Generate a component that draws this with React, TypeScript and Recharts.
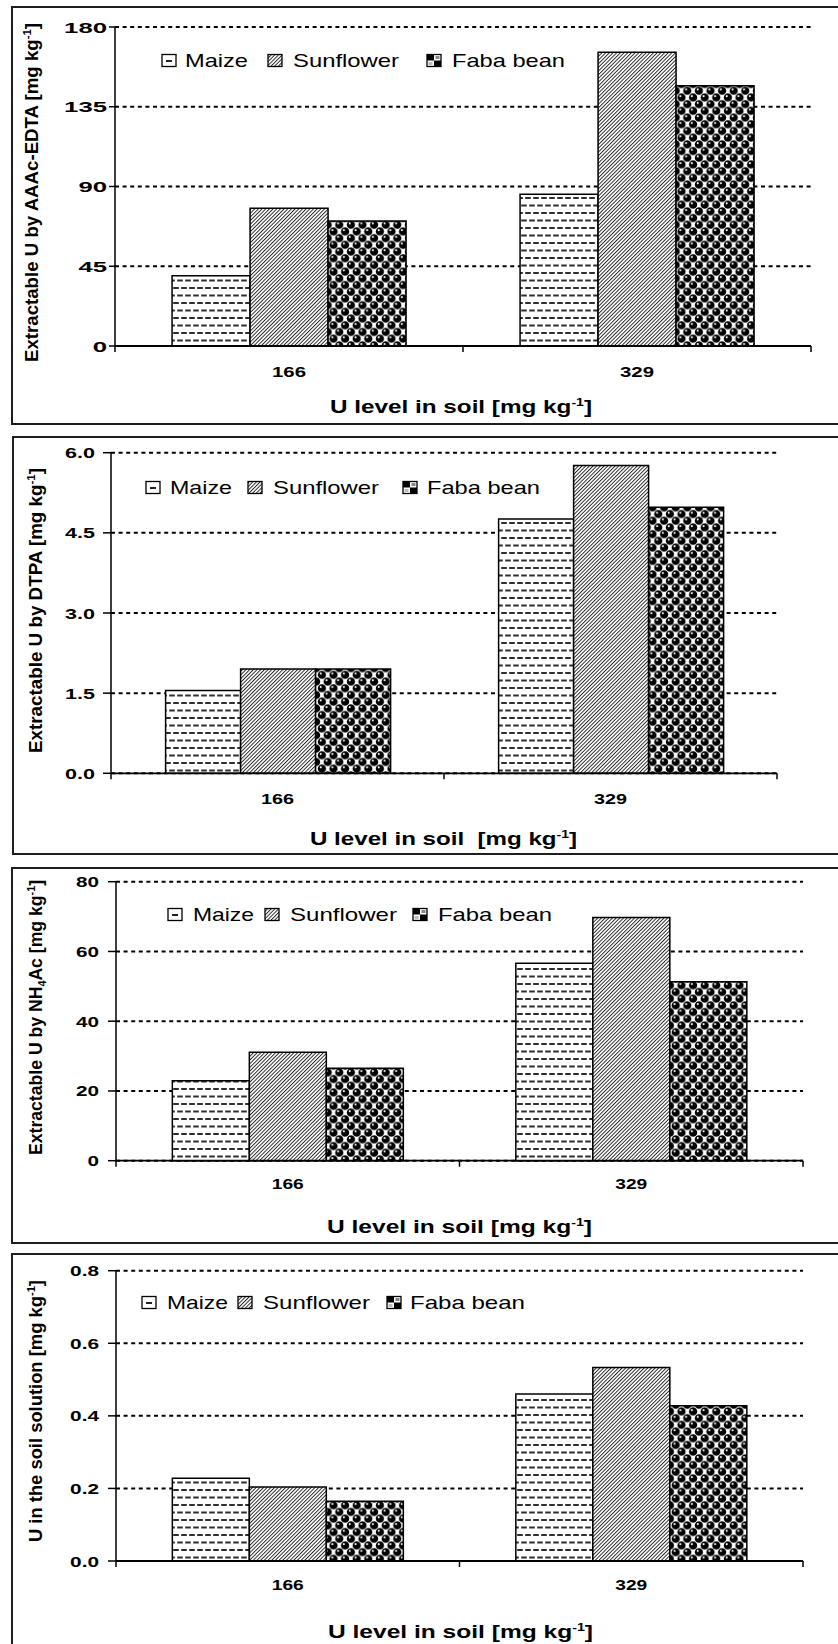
import React from 'react';
import { BarChart, Bar, XAxis, YAxis, CartesianGrid, Legend, Label } from 'recharts';

const FONT = '"Liberation Sans", Arial, sans-serif';

// soil U levels on the category axis
const levels = ['166', '329'];
const seriesNames = ['Maize', 'Sunflower', 'Faba bean'];

// extractable U by AAAc-EDTA
const edtaMaize = [39.7, 85.6];
const edtaSunflower = [77.7, 165.7];
const edtaFaba = [70.5, 146.9];
const edtaTicks = [0, 45, 90, 135, 180];

// extractable U by DTPA
const dtpaMaize = [1.55, 4.76];
const dtpaSunflower = [1.95, 5.76];
const dtpaFaba = [1.95, 4.98];
const dtpaTicks = [0, 1.5, 3, 4.5, 6];

// extractable U by NH4Ac
const nh4Maize = [22.9, 56.6];
const nh4Sunflower = [31.1, 69.7];
const nh4Faba = [26.5, 51.3];
const nh4Ticks = [0, 20, 40, 60, 80];

// U in the soil solution
const solMaize = [0.228, 0.46];
const solSunflower = [0.204, 0.533];
const solFaba = [0.165, 0.428];
const solTicks = [0, 0.2, 0.4, 0.6, 0.8];

type Seg = { t: string; sup?: boolean; sub?: boolean };

const xTitleSegs: Seg[] = [{ t: 'U level in soil [mg kg' }, { t: '-1', sup: true }, { t: ']' }];
const xTitleSegsWide: Seg[] = [{ t: 'U level in soil  [mg kg' }, { t: '-1', sup: true }, { t: ']' }];

const makeRows = (m: number[], s: number[], f: number[]) =>
  levels.map((level, i) => ({ level, maize: m[i], sunflower: s[i], faba: f[i] }));

type Panel = {
  id: string;
  rows: ReturnType<typeof makeRows>;
  ticks: number[];
  decimals: number;
  yTitle: Seg[];
  xTitle: Seg[];
  // layout (page pixels)
  boxLeft: number;
  boxTop: number;
  boxBottom: number | null;
  yTop: number;
  y0: number;
  axisX: number;
  axisRight: number;
  tickSize: number;
  tickRight: number;
  digitW: number;
  legendY: number;
  legend: [number, number, number][];
  catDy: number;
  catLen: number;
  xt: [number, number, number];
  yt: [number, number, number];
};

const panels: Panel[] = [
  {
    id: 'edta',
    rows: makeRows(edtaMaize, edtaSunflower, edtaFaba),
    ticks: edtaTicks,
    decimals: 0,
    yTitle: [{ t: 'Extractable U by AAAc-EDTA [mg kg' }, { t: '-1', sup: true }, { t: ']' }],
    xTitle: xTitleSegs,
    boxLeft: 12, boxTop: 7, boxBottom: 424,
    yTop: 27, y0: 346, axisX: 115, axisRight: 811,
    tickSize: 6, tickRight: 107, digitW: 14.3,
    legendY: 61, legend: [[162, 185, 63], [268, 293, 106], [427, 452, 113]],
    catDy: 31, catLen: 34,
    xt: [330, 262, 413], yt: [38.3, 362, 339],
  },
  {
    id: 'dtpa',
    rows: makeRows(dtpaMaize, dtpaSunflower, dtpaFaba),
    ticks: dtpaTicks,
    decimals: 1,
    yTitle: [{ t: 'Extractable U by DTPA [mg kg' }, { t: '-1', sup: true }, { t: ']' }],
    xTitle: xTitleSegsWide,
    boxLeft: 13, boxTop: 437, boxBottom: 854,
    yTop: 452.7, y0: 773.3, axisX: 111, axisRight: 777,
    tickSize: 8, tickRight: 95, digitW: 12.2,
    legendY: 488, legend: [[146, 170, 62], [248, 273, 106], [403, 427, 113]],
    catDy: 30.7, catLen: 33,
    xt: [310, 267, 845], yt: [41.7, 753, 285],
  },
  {
    id: 'nh4',
    rows: makeRows(nh4Maize, nh4Sunflower, nh4Faba),
    ticks: nh4Ticks,
    decimals: 0,
    yTitle: [
      { t: 'Extractable U by NH' }, { t: '4', sub: true }, { t: 'Ac [mg kg' }, { t: '-1', sup: true }, { t: ']' },
    ],
    xTitle: xTitleSegs,
    boxLeft: 12, boxTop: 868, boxBottom: 1243,
    yTop: 881.7, y0: 1160.7, axisX: 116, axisRight: 803,
    tickSize: 8, tickRight: 99, digitW: 11.5,
    legendY: 915, legend: [[168, 193, 61], [265, 290, 107], [413, 438, 114]],
    catDy: 28.6, catLen: 32,
    xt: [327, 265, 1233], yt: [41.7, 1155, 275],
  },
  {
    id: 'sol',
    rows: makeRows(solMaize, solSunflower, solFaba),
    ticks: solTicks,
    decimals: 1,
    yTitle: [{ t: 'U in the soil solution [mg kg' }, { t: '-1', sup: true }, { t: ']' }],
    xTitle: xTitleSegs,
    boxLeft: 12, boxTop: 1254, boxBottom: null,
    yTop: 1270.7, y0: 1561, axisX: 116, axisRight: 803,
    tickSize: 8, tickRight: 99, digitW: 11.8,
    legendY: 1303, legend: [[142, 167, 61], [238, 263, 107], [387, 410, 115]],
    catDy: 29, catLen: 32,
    xt: [328, 265, 1638], yt: [41.7, 1542, 262],
  },
];

const PAGE_W = 838;
const PAGE_H = 1644;
const Y_AXIS_W = 60;
const X_AXIS_H = 30;
const KEYS = ['maize', 'sunflower', 'faba'];

function Segs({ segs, small }: { segs: Seg[]; small: number }) {
  let shift = 0;
  return (
    <>
      {segs.map((s, i) => {
        const target = s.sup ? -7 : s.sub ? 4 : 0;
        const dy = target - shift;
        shift = target;
        return (
          <tspan key={i} dy={dy || undefined} fontSize={s.sup || s.sub ? small : undefined}>
            {s.t}
          </tspan>
        );
      })}
    </>
  );
}

function Patterns({ id }: { id: string }) {
  const balls: [number, number][] = [
    [2.9, 3.35], [14.5, 3.35], [2.9, 16.75], [14.5, 16.75],
    [8.7, 10.05], [-2.9, 10.05], [8.7, -3.35], [-2.9, -3.35],
  ];
  return (
    <defs>
      <pattern id={`${id}-maize`} patternUnits="userSpaceOnUse" width={8} height={15}>
        <rect width={8} height={15} fill="#fff" />
        <rect x={1.2} y={2.5} width={5.6} height={2} fill="#2e2e2e" />
        <rect x={5.2} y={10} width={5.6} height={2} fill="#2e2e2e" />
        <rect x={-2.8} y={10} width={5.6} height={2} fill="#2e2e2e" />
      </pattern>
      <pattern id={`${id}-sun`} patternUnits="userSpaceOnUse" width={2.6} height={10} patternTransform="rotate(45)">
        <rect width={2.6} height={10} fill="#fff" />
        <rect width={0.95} height={10} fill="#262626" />
      </pattern>
      <pattern id={`${id}-faba`} patternUnits="userSpaceOnUse" width={11.6} height={13.4}>
        <rect width={11.6} height={13.4} fill="#fff" />
        {balls.map(([cx, cy], i) => (
          <g key={i}>
            <circle cx={cx} cy={cy} r={4.1} fill="#000" />
            <circle cx={cx - 1.2} cy={cy - 1.3} r={1} fill="#fff" />
          </g>
        ))}
      </pattern>
    </defs>
  );
}

function PanelChart({ p }: { p: Panel }) {
  const h = (p.boxBottom ?? PAGE_H) - p.boxTop;
  const y0c = p.y0 - p.boxTop;
  const band = (p.axisRight - p.axisX) / levels.length;
  const fills = [`url(#${p.id}-maize)`, `url(#${p.id}-sun)`, `url(#${p.id}-faba)`];

  const valueTick = (props: any) => {
    const { y, payload } = props;
    const label = Number(payload.value).toFixed(p.decimals);
    const len = label.split('').reduce((w, c) => w + (c === '.' ? p.digitW * 0.45 : p.digitW), 0);
    return (
      <text
        x={p.tickRight - len}
        y={y + 5.5}
        textLength={len}
        lengthAdjust="spacingAndGlyphs"
        fontFamily={FONT}
        fontWeight="bold"
        fontSize={15}
        fill="#000"
      >
        {label}
      </text>
    );
  };

  const categoryTick = (props: any) => {
    const { x, payload } = props;
    const idx = props.index ?? payload.index ?? 0;
    const left = x - band / 2;
    return (
      <g>
        <line x1={left} x2={left} y1={y0c} y2={y0c + 6} stroke="#000" strokeWidth={1.5} />
        {idx === levels.length - 1 && (
          <line x1={x + band / 2} x2={x + band / 2} y1={y0c} y2={y0c + 6} stroke="#000" strokeWidth={1.5} />
        )}
        <text
          x={x - p.catLen / 2}
          y={y0c + p.catDy}
          textLength={p.catLen}
          lengthAdjust="spacingAndGlyphs"
          fontFamily={FONT}
          fontWeight="bold"
          fontSize={15}
          fill="#000"
        >
          {payload.value}
        </text>
      </g>
    );
  };

  const legendIcon = (i: number, ix: number, cy: number) => {
    const iy = cy - 6.5;
    if (i === 0) {
      return (
        <g>
          <rect x={ix} y={iy} width={14} height={12} fill="#fff" stroke="#000" strokeWidth={1.3} />
          <rect x={ix + 4} y={cy - 1} width={6} height={2} fill="#222" />
        </g>
      );
    }
    if (i === 1) {
      return <rect x={ix} y={iy} width={14} height={12} fill={fills[1]} stroke="#000" strokeWidth={1.3} />;
    }
    return (
      <g>
        <rect x={ix} y={iy} width={14} height={12} fill="#fff" stroke="#000" strokeWidth={1.3} />
        <rect x={ix} y={iy} width={7} height={6} fill="#000" />
        <rect x={ix + 7} y={iy + 6} width={7} height={6} fill="#000" />
        <rect x={ix + 8.5} y={iy + 1.5} width={4} height={3} fill="#888" />
        <rect x={ix + 1.5} y={iy + 7.5} width={4} height={3} fill="#bbb" />
      </g>
    );
  };

  const legendContent = (props: any) => {
    const payload: any[] = props.payload ?? [];
    const ordered = [...payload].sort(
      (a, b) => KEYS.indexOf(String(a.dataKey)) - KEYS.indexOf(String(b.dataKey)),
    );
    const cy = 15;
    return (
      <svg width={PAGE_W} height={30} style={{ display: 'block', overflow: 'visible' }}>
        {ordered.map((entry: any, i: number) => {
          const [ix, tx, tl] = p.legend[i];
          return (
            <g key={String(entry.dataKey)}>
              {legendIcon(i, ix, cy)}
              <text
                x={tx}
                y={cy + 6.4}
                textLength={tl}
                lengthAdjust="spacingAndGlyphs"
                fontFamily={FONT}
                fontSize={18.5}
                fill="#000"
              >
                {entry.value}
              </text>
            </g>
          );
        })}
      </svg>
    );
  };

  const xTitle = () => (
    <text
      x={p.xt[0]}
      y={p.xt[2] - p.boxTop}
      textLength={p.xt[1]}
      lengthAdjust="spacingAndGlyphs"
      fontFamily={FONT}
      fontWeight="bold"
      fontSize={19}
      fill="#000"
      style={{ whiteSpace: 'pre' }}
    >
      <Segs segs={p.xTitle} small={11} />
    </text>
  );

  const yTitle = () => (
    <text
      transform={`translate(${p.yt[0]},${p.yt[1] - p.boxTop}) rotate(-90)`}
      textLength={p.yt[2]}
      lengthAdjust="spacingAndGlyphs"
      fontFamily={FONT}
      fontWeight="bold"
      fontSize={18}
      fill="#000"
    >
      <Segs segs={p.yTitle} small={11} />
    </text>
  );

  return (
    <div style={{ position: 'absolute', left: 0, top: p.boxTop, width: PAGE_W, height: h }}>
      <div
        style={{
          position: 'absolute',
          boxSizing: 'border-box',
          left: p.boxLeft - 1,
          top: -1,
          width: PAGE_W + 20,
          height: p.boxBottom === null ? h + 20 : h + 2,
          borderTop: '2px solid #1e1e1e',
          borderLeft: '2px solid #1e1e1e',
          borderBottom: p.boxBottom === null ? 'none' : '2px solid #1e1e1e',
        }}
      />
      <div style={{ position: 'absolute', left: 0, top: 0 }}>
        <BarChart
          width={PAGE_W}
          height={h}
          data={p.rows}
          barGap={0}
          barCategoryGap="16.4%"
          margin={{
            top: p.yTop - p.boxTop,
            left: p.axisX - Y_AXIS_W,
            right: PAGE_W - p.axisRight,
            bottom: h - y0c - X_AXIS_H,
          }}
        >
          <Patterns id={p.id} />
          <CartesianGrid vertical={false} stroke="#000" strokeWidth={2} strokeDasharray="4 3.6" />
          <XAxis
            dataKey="level"
            height={X_AXIS_H}
            tickLine={false}
            axisLine={{ stroke: '#000', strokeWidth: 1.8 }}
            tick={categoryTick}
            interval={0}
          >
            <Label content={xTitle} />
          </XAxis>
          <YAxis
            width={Y_AXIS_W}
            type="number"
            domain={[0, p.ticks[p.ticks.length - 1]]}
            ticks={p.ticks}
            interval={0}
            tickSize={p.tickSize}
            tickLine={{ stroke: '#000', strokeWidth: 1.5 }}
            axisLine={{ stroke: '#000', strokeWidth: 1.5 }}
            tick={valueTick}
          >
            <Label content={yTitle} />
          </YAxis>
          <Legend
            layout="horizontal"
            verticalAlign="middle"
            align="center"
            content={legendContent}
            wrapperStyle={{ left: 0, top: p.legendY - p.boxTop - 15, width: PAGE_W, height: 30 }}
          />
          {KEYS.map((k, i) => (
            <Bar
              key={k}
              dataKey={k}
              name={seriesNames[i]}
              fill={fills[i]}
              stroke="#000"
              strokeWidth={1.5}
              isAnimationActive={false}
            />
          ))}
        </BarChart>
      </div>
    </div>
  );
}

export default function App() {
  return (
    <div
      style={{
        position: 'absolute',
        left: 0,
        top: 0,
        width: PAGE_W,
        height: PAGE_H,
        overflow: 'hidden',
        background: '#fff',
        fontFamily: FONT,
      }}
    >
      {panels.map((p) => (
        <PanelChart key={p.id} p={p} />
      ))}
    </div>
  );
}
